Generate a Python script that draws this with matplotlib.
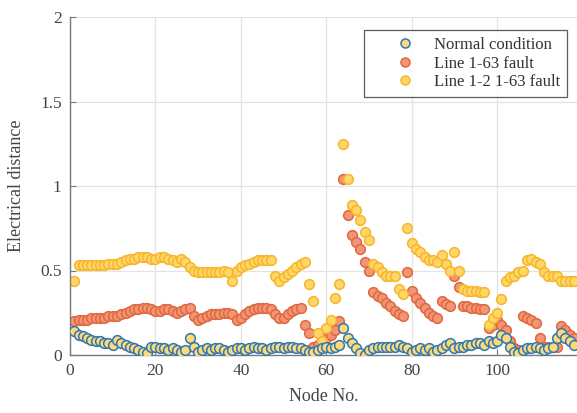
import numpy as np
import matplotlib
matplotlib.use("Agg")
import matplotlib.pyplot as plt

nodes = list(range(1, 119))

normal = [0.14, 0.12, 0.11, 0.10, 0.09, 0.08, 0.08, 0.07, 0.07, 0.06,
          0.09, 0.07, 0.06, 0.05, 0.04, 0.03, 0.02, 0.01, 0.05, 0.05,
          0.04, 0.04, 0.03, 0.04, 0.03, 0.02, 0.03, 0.10, 0.05, 0.02,
          0.03, 0.04, 0.03, 0.04, 0.04, 0.03, 0.02, 0.03, 0.04, 0.04,
          0.03, 0.04, 0.05, 0.04, 0.04, 0.03, 0.04, 0.05, 0.05, 0.04,
          0.05, 0.05, 0.04, 0.04, 0.03, 0.02, 0.02, 0.03, 0.04, 0.05,
          0.04, 0.05, 0.06, 0.16, 0.10, 0.07, 0.04, 0.01, 0.00, 0.03,
          0.04, 0.05, 0.05, 0.05, 0.05, 0.05, 0.06, 0.05, 0.04, 0.02,
          0.03, 0.04, 0.03, 0.04, 0.02, 0.03, 0.04, 0.06, 0.07, 0.04,
          0.05, 0.05, 0.06, 0.06, 0.07, 0.07, 0.06, 0.08, 0.07, 0.08,
          0.12, 0.10, 0.05, 0.02, 0.01, 0.03, 0.04, 0.04, 0.05, 0.04,
          0.03, 0.04, 0.05, 0.10, 0.13, 0.10, 0.08, 0.06]

fault_1_63 = [0.20, 0.21, 0.21, 0.21, 0.22, 0.22, 0.22, 0.22, 0.23, 0.23,
              0.23, 0.24, 0.25, 0.26, 0.27, 0.27, 0.28, 0.28, 0.27, 0.26,
              0.26, 0.27, 0.27, 0.26, 0.25, 0.26, 0.27, 0.28, 0.23, 0.21,
              0.22, 0.23, 0.24, 0.24, 0.24, 0.25, 0.25, 0.24, 0.21, 0.22,
              0.24, 0.26, 0.27, 0.28, 0.28, 0.28, 0.27, 0.24, 0.22, 0.22,
              0.24, 0.26, 0.27, 0.28, 0.18, 0.13, 0.05, 0.06, 0.08, 0.10,
              0.12, 0.15, 0.20, 1.04, 0.83, 0.71, 0.67, 0.63, 0.55, 0.50,
              0.37, 0.35, 0.34, 0.31, 0.29, 0.26, 0.24, 0.23, 0.49, 0.38,
              0.34, 0.31, 0.28, 0.25, 0.23, 0.22, 0.32, 0.30, 0.29, 0.47,
              0.40, 0.29, 0.29, 0.28, 0.28, 0.27, 0.27, 0.16, 0.18, 0.21,
              0.18, 0.15, 0.08, 0.04, 0.03, 0.23, 0.22, 0.21, 0.19, 0.10,
              0.05, 0.05, 0.05, 0.05, 0.17, 0.15, 0.12, 0.10]

fault_1_2_1_63 = [0.44, 0.53, 0.53, 0.53, 0.53, 0.53, 0.53, 0.53, 0.54, 0.54,
                  0.54, 0.55, 0.56, 0.57, 0.57, 0.58, 0.58, 0.58, 0.57, 0.57,
                  0.58, 0.58, 0.57, 0.56, 0.55, 0.57, 0.55, 0.52, 0.50, 0.49,
                  0.49, 0.49, 0.49, 0.49, 0.49, 0.50, 0.49, 0.44, 0.50, 0.52,
                  0.53, 0.54, 0.55, 0.56, 0.56, 0.56, 0.56, 0.47, 0.44, 0.46,
                  0.48, 0.50, 0.52, 0.54, 0.55, 0.42, 0.32, 0.13, 0.08, 0.16,
                  0.21, 0.34, 0.42, 1.25, 1.04, 0.89, 0.86, 0.80, 0.73, 0.68,
                  0.54, 0.52, 0.49, 0.47, 0.47, 0.47, 0.39, 0.36, 0.75, 0.66,
                  0.63, 0.61, 0.58, 0.56, 0.56, 0.55, 0.59, 0.54, 0.50, 0.61,
                  0.50, 0.39, 0.38, 0.38, 0.38, 0.37, 0.37, 0.18, 0.22, 0.25,
                  0.33, 0.44, 0.46, 0.47, 0.49, 0.50, 0.56, 0.57, 0.55, 0.54,
                  0.49, 0.47, 0.47, 0.47, 0.44, 0.44, 0.44, 0.44]

labels = ["Normal condition", "Line 1-63 fault", "Line 1-2 1-63 fault"]
xticks = [0, 20, 40, 60, 80, 100]
yticks = [0, 0.5, 1, 1.5, 2]
yticklabels = ["0", "0.5", "1", "1.5", "2"]

plt.rcParams['font.family'] = ['Liberation Serif', 'DejaVu Serif']

fig = plt.figure(figsize=(5.77, 4.13), dpi=100)
ax = fig.add_axes([70/577, 1-355/413, (577-70)/577, (355-17)/413])

ms = 7
ax.plot(nodes, normal, 'o', ms=ms, mfc='#FDD978', mec='#2F77B5', mew=1.1,
        label=labels[0], zorder=3)
ax.plot(nodes, fault_1_63, 'o', ms=ms, mfc='#F29575', mec='#E0683F', mew=1.1,
        label=labels[1], zorder=2)
ax.plot(nodes, fault_1_2_1_63, 'o', ms=ms, mfc='#FFD768', mec='#F7B52C', mew=1.1,
        label=labels[2], zorder=2)

ax.set_xlim(0, 118.7)
ax.set_ylim(0, 2)
ax.set_xticks(xticks)
ax.set_yticks(yticks)
ax.set_yticklabels(yticklabels)
ax.grid(True, color='#e3e3e3', linewidth=0.9, zorder=0)
ax.set_axisbelow(True)
for s in ['top', 'right']:
    ax.spines[s].set_visible(False)
for s in ['left', 'bottom']:
    ax.spines[s].set_color('#7a7a7a')
    ax.spines[s].set_linewidth(1.0)
ax.tick_params(direction='in', length=4, color='#7a7a7a', labelcolor='#444444',
               labelsize=12.5, pad=6)
ax.set_xlabel('Node No.', fontsize=13, color='#444444', labelpad=6)
ax.set_ylabel('Electrical distance', fontsize=13, color='#444444', labelpad=11)

leg = ax.legend(loc='upper right', bbox_to_anchor=(0.986, 0.97), fontsize=12,
                frameon=True, fancybox=False, edgecolor='#333333',
                handletextpad=-0.4, borderpad=0.4, labelspacing=0.15,
                handlelength=4.2, borderaxespad=0.2)
leg.get_frame().set_linewidth(0.9)
for h in leg.legend_handles:
    h.set_markersize(6.5)
for t in leg.get_texts():
    t.set_color('#333333')

fig.savefig('out.png', dpi=100)
